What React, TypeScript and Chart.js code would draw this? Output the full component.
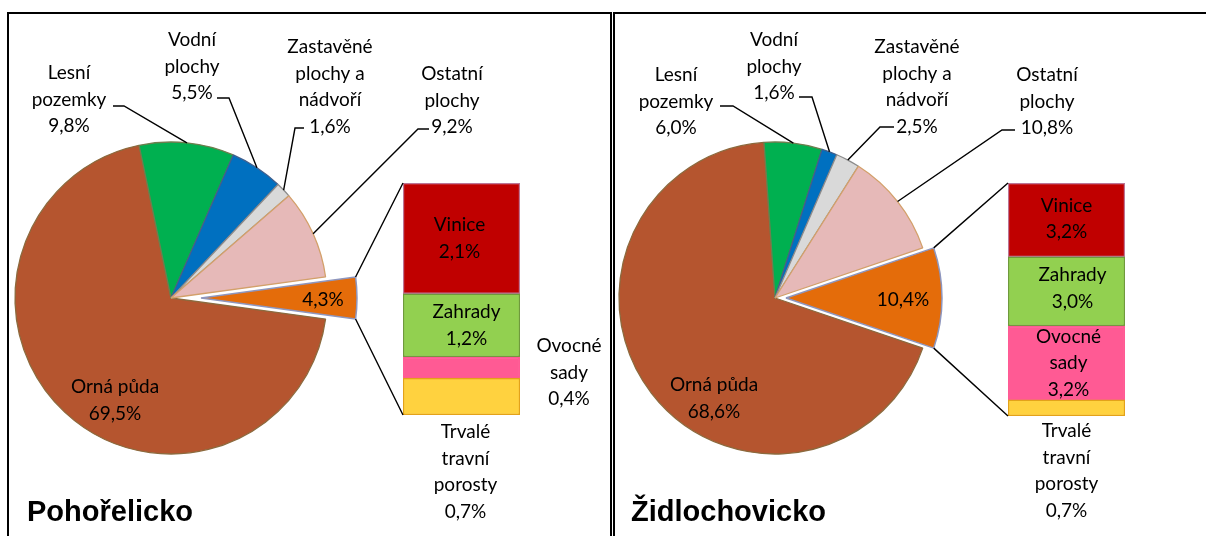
import React, { useEffect, useRef } from "react";
import { Chart, registerables } from "chart.js";

Chart.register(...registerables);

const W = 1206;
const H = 536;

// ---------------- data ----------------
const panelTitles = ["Pohořelicko", "Židlochovicko"];
const pieCategories = [
  "Orná půda",
  "Lesní\npozemky",
  "Vodní\nplochy",
  "Zastavěné\nplochy a\nnádvoří",
  "Ostatní\nplochy",
  "",
];
const pohorelickoPie = [69.5, 9.8, 5.5, 1.6, 9.2, 4.3];
const zidlochovickoPie = [68.6, 6.0, 1.6, 2.5, 10.8, 10.4];

const barCategories = ["Trvalé\ntravní\nporosty", "Ovocné\nsady", "Zahrady", "Vinice"];
const pohorelickoBar = [0.7, 0.4, 1.2, 2.1];
const zidlochovickoBar = [0.7, 3.2, 3.0, 3.2];

// ---------------- styles ----------------
const pieColors = ["#B5552F", "#00B050", "#0070C0", "#D9D9D9", "#E6B9B8", "#E46C0A"];
const pieBorderColors = ["#8C6A3E", "#6E7E4E", "#3F5F8E", "#8C8C8C", "#D3A06A", "#8E96BE"];
const barColors = ["#FFD23F", "#FF5A94", "#92D050", "#C00000"];
const barBorderColors = ["#E3A21A", "#FF5A94", "#6F9A3C", "#BC7596"];

const LH = 26.5;
const FONT = '19px Lato, "Open Sans", sans-serif';

type PieLab = { x: number; y: number; lead?: [number, number, number] };
type BarLab = { mode: "in" | "right" | "below"; dx: number; dy: number };

const layouts: {
  frame: React.CSSProperties;
  title: { left: number; top: number };
  pie: number[];
  bar: number[];
  cx: number;
  cy: number;
  r: number;
  explode: number;
  barBox: { left: number; top: number; right: number; bottom: number };
  pieLabels: PieLab[];
  barLabels: BarLab[];
}[] = [
  {
    frame: { left: 7, top: 12, width: 605, height: 600, border: "2px solid #000" },
    title: { left: 27, top: 497 },
    pie: pohorelickoPie,
    bar: pohorelickoBar,
    cx: 171,
    cy: 298,
    r: 156,
    explode: 30,
    barBox: { left: 403, top: 183, right: 520, bottom: 415 },
    pieLabels: [
      { x: 115, y: 387 },
      { x: 69, y: 73, lead: [113, 106, 124] },
      { x: 192, y: 40, lead: [217, 98, 229] },
      { x: 330, y: 47, lead: [304, 128, 295] },
      { x: 452, y: 74, lead: [429, 129, 418] },
      { x: 323, y: 300 },
    ],
    barLabels: [
      { mode: "below", dx: 4, dy: 17 },
      { mode: "right", dx: 49, dy: 5 },
      { mode: "in", dx: 5, dy: 0 },
      { mode: "in", dx: -2, dy: 0 },
    ],
  },
  {
    frame: { left: 613, top: 12, width: 700, height: 600, borderLeft: "2px solid #000", borderTop: "2px solid #000" },
    title: { left: 631, top: 497 },
    pie: zidlochovickoPie,
    bar: zidlochovickoBar,
    cx: 775,
    cy: 298,
    r: 156,
    explode: 11,
    barBox: { left: 1008, top: 183, right: 1125, bottom: 416 },
    pieLabels: [
      { x: 714, y: 385 },
      { x: 676, y: 75, lead: [720, 106, 733] },
      { x: 774, y: 40, lead: [799, 97, 812] },
      { x: 917, y: 47, lead: [894, 127, 880] },
      { x: 1047, y: 75, lead: [1015, 130, 1002] },
      { x: 903, y: 300 },
    ],
    barLabels: [
      { mode: "below", dx: 0, dy: 15 },
      { mode: "in", dx: 2, dy: 0 },
      { mode: "in", dx: 6, dy: -3 },
      { mode: "in", dx: 0, dy: -1 },
    ],
  },
];

function fmt(v: number) {
  return v.toFixed(1).replace(".", ",") + "%";
}

function drawLines(ctx: CanvasRenderingContext2D, lines: string[], x: number, y0: number) {
  ctx.save();
  ctx.font = FONT;
  ctx.fillStyle = "#000";
  ctx.textAlign = "center";
  ctx.textBaseline = "middle";
  lines.forEach((t, k) => ctx.fillText(t, x, y0 + k * LH));
  ctx.restore();
}

function padFor(cx: number, cy: number) {
  return {
    left: Math.max(0, 2 * cx - W),
    right: Math.max(0, W - 2 * cx),
    top: Math.max(0, 2 * cy - H),
    bottom: Math.max(0, H - 2 * cy),
  };
}

export default function App() {
  const canvases = useRef<(HTMLCanvasElement | null)[]>([]);

  useEffect(() => {
    const charts: Chart[] = [];
    layouts.forEach((L, pi) => {
      const cMain = canvases.current[pi * 3]!;
      const cExp = canvases.current[pi * 3 + 1]!;
      const cBar = canvases.current[pi * 3 + 2]!;
      const total = L.pie.reduce((a, b) => a + b, 0);
      const otherIdx = L.pie.length - 1;
      const rotation = 90 + (L.pie[otherIdx] / total) * 180;

      const mainChart = new Chart(cMain, {
        type: "pie",
        data: {
          labels: pieCategories,
          datasets: [
            {
              data: L.pie,
              backgroundColor: pieColors.map((c, i) => (i === otherIdx ? "rgba(0,0,0,0)" : c)),
              borderColor: pieBorderColors.map((c, i) => (i === otherIdx ? "rgba(0,0,0,0)" : c)),
              borderWidth: pieColors.map((_, i) => (i === otherIdx ? 0 : 1.3)),
              rotation,
              radius: L.r,
            } as any,
          ],
        },
        options: {
          responsive: false,
          animation: false,
          events: [],
          layout: { padding: padFor(L.cx, L.cy) },
          plugins: { legend: { display: false }, tooltip: { enabled: false } },
        },
      });
      charts.push(mainChart);

      // exploded "other" slice, drawn with its centre moved outwards
      const expChart = new Chart(cExp, {
        type: "pie",
        data: {
          labels: pieCategories,
          datasets: [
            {
              data: L.pie,
              backgroundColor: pieColors.map((c, i) => (i === otherIdx ? c : "rgba(0,0,0,0)")),
              borderColor: pieBorderColors.map((c, i) => (i === otherIdx ? c : "rgba(0,0,0,0)")),
              borderWidth: pieColors.map((_, i) => (i === otherIdx ? 1.5 : 0)),
              rotation,
              radius: L.r,
            } as any,
          ],
        },
        options: {
          responsive: false,
          animation: false,
          events: [],
          layout: { padding: padFor(L.cx + L.explode, L.cy) },
          plugins: { legend: { display: false }, tooltip: { enabled: false } },
        },
      });
      charts.push(expChart);

      const barSum = L.bar.reduce((a, b) => a + b, 0);
      const overlay = {
        id: "overlay" + pi,
        afterDraw(chart: any) {
          const ctx: CanvasRenderingContext2D = chart.ctx;
          ctx.save();
          ctx.strokeStyle = "#000";
          ctx.lineWidth = 1.4;
          // pie labels with leader lines
          const arcs: any[] = mainChart.getDatasetMeta(0).data as any[];
          L.pieLabels.forEach((lab, i) => {
            const name = pieCategories[i];
            const lines = name ? [...name.split("\n"), fmt(L.pie[i])] : [fmt(L.pie[i])];
            drawLines(ctx, lines, lab.x, lab.y);
            if (lab.lead) {
              const a = arcs[i];
              const mid = (a.startAngle + a.endAngle) / 2;
              const ex = a.x + a.outerRadius * Math.cos(mid);
              const ey = a.y + a.outerRadius * Math.sin(mid);
              ctx.beginPath();
              ctx.moveTo(lab.lead[0], lab.lead[1]);
              ctx.lineTo(lab.lead[2], lab.lead[1]);
              ctx.lineTo(ex, ey);
              ctx.stroke();
            }
          });
          // connectors from exploded slice to bar
          const ea: any = expChart.getDatasetMeta(0).data[otherIdx];
          const topEl: any = chart.getDatasetMeta(L.bar.length - 1).data[0];
          const botEl: any = chart.getDatasetMeta(0).data[0];
          ctx.beginPath();
          ctx.moveTo(ea.x + ea.outerRadius * Math.cos(ea.startAngle), ea.y + ea.outerRadius * Math.sin(ea.startAngle));
          ctx.lineTo(topEl.x - topEl.width / 2, topEl.y);
          ctx.moveTo(ea.x + ea.outerRadius * Math.cos(ea.endAngle), ea.y + ea.outerRadius * Math.sin(ea.endAngle));
          ctx.lineTo(botEl.x - botEl.width / 2, botEl.base);
          ctx.stroke();
          // bar labels
          L.barLabels.forEach((bl, i) => {
            const el: any = chart.getDatasetMeta(i).data[0];
            const lines = [...barCategories[i].split("\n"), fmt(L.bar[i])];
            const mid = (el.y + el.base) / 2;
            if (bl.mode === "below") {
              drawLines(ctx, lines, el.x + bl.dx, el.base + bl.dy);
            } else {
              const x = bl.mode === "right" ? el.x + el.width / 2 + bl.dx : el.x + bl.dx;
              const y0 = mid + bl.dy - ((lines.length - 1) * LH) / 2;
              drawLines(ctx, lines, x, y0);
            }
          });
          ctx.restore();
        },
      };

      const barChart = new Chart(cBar, {
        type: "bar",
        data: {
          labels: [""],
          datasets: barCategories.map((name, i) => ({
            label: name,
            data: [L.bar[i]],
            backgroundColor: barColors[i],
            borderColor: barBorderColors[i],
            borderWidth: 1.5,
            borderSkipped: false,
            categoryPercentage: 1,
            barPercentage: 1,
          })) as any,
        },
        options: {
          responsive: false,
          animation: false,
          events: [],
          layout: {
            padding: {
              left: L.barBox.left,
              top: L.barBox.top,
              right: W - L.barBox.right,
              bottom: H - L.barBox.bottom,
            },
          },
          scales: {
            x: { display: false, stacked: true },
            y: { display: false, stacked: true, min: 0, max: barSum },
          },
          plugins: { legend: { display: false }, tooltip: { enabled: false } },
        },
        plugins: [overlay],
      });
      charts.push(barChart);
    });
    return () => charts.forEach((c) => c.destroy());
  }, []);

  const canvasStyle: React.CSSProperties = { position: "absolute", left: 0, top: 0, width: W, height: H };

  return (
    <div style={{ position: "absolute", left: 0, top: 0, width: W, height: H, overflow: "hidden", background: "#fff" }}>
      {layouts.map((L, pi) => (
        <div key={"f" + pi} style={{ position: "absolute", boxSizing: "border-box", ...L.frame }} />
      ))}
      {[0, 1, 2, 3, 4, 5].map((i) => (
        <canvas
          key={"c" + i}
          width={W}
          height={H}
          style={canvasStyle}
          ref={(el) => {
            canvases.current[i] = el;
          }}
        />
      ))}
      {layouts.map((L, pi) => (
        <div
          key={"t" + pi}
          style={{
            position: "absolute",
            left: L.title.left,
            top: L.title.top,
            font: 'bold 29px "Liberation Sans", Arial, sans-serif',
            lineHeight: "29px",
            color: "#000",
            whiteSpace: "nowrap",
          }}
        >
          {panelTitles[pi]}
        </div>
      ))}
    </div>
  );
}
